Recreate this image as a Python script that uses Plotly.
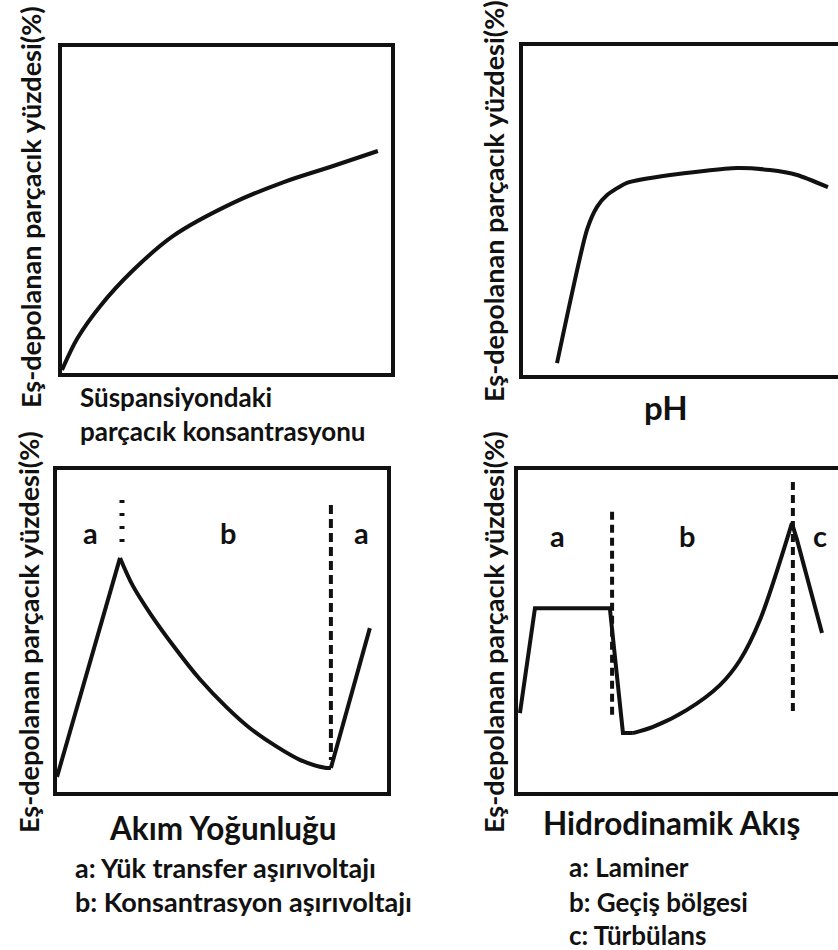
import plotly.graph_objects as go

W, H = 838, 950
FONT = "Lato"
INK = "#111111"

# ---- data (normalised axis units, 0..1 in each panel) ----
# Panel 1: co-deposited particle % vs particle concentration in suspension
conc_x = [0.0, 0.046, 0.116, 0.216, 0.337, 0.520, 0.672, 0.824, 0.960]
conc_y = [0.009, 0.105, 0.205, 0.315, 0.420, 0.522, 0.585, 0.635, 0.681]

# Panel 2: co-deposited particle % vs pH
ph_x = [0.108, 0.203, 0.235, 0.267, 0.330, 0.467, 0.679, 0.784, 0.870, 0.968]
ph_y = [0.036, 0.441, 0.511, 0.547, 0.584, 0.608, 0.629, 0.623, 0.608, 0.571]

# Panel 3: current density (rise, decay, second rise)
cd_rise_x = [0.0, 0.191]
cd_rise_y = [0.047, 0.727]
cd_decay_x = [0.191, 0.230, 0.282, 0.352, 0.433, 0.515, 0.585, 0.667, 0.736, 0.812, 0.830]
cd_decay_y = [0.727, 0.640, 0.555, 0.455, 0.350, 0.262, 0.198, 0.140, 0.100, 0.075, 0.075]
cd_rise2_x = [0.830, 0.948]
cd_rise2_y = [0.075, 0.509]
cd_dot_x, cd_dot_y = [0.197, 0.197], [0.907, 0.752]
cd_dash_x, cd_dash_y = [0.830, 0.830], [0.891, 0.099]
cd_labels = ["a", "b", "a"]
cd_label_x = [0.10, 0.518, 0.924]

# Panel 4: hydrodynamic flow
hf_lam_x = [0.006, 0.053, 0.287, 0.328, 0.359]
hf_lam_y = [0.245, 0.571, 0.571, 0.183, 0.183]
hf_trans_x = [0.359, 0.422, 0.528, 0.631, 0.694, 0.756, 0.856]
hf_trans_y = [0.183, 0.202, 0.255, 0.332, 0.410, 0.534, 0.835]
hf_turb_x = [0.856, 0.872, 0.950]
hf_turb_y = [0.835, 0.783, 0.494]
hf_dash1_x, hf_dash1_y = [0.294, 0.294], [0.870, 0.224]
hf_dash2_x, hf_dash2_y = [0.859, 0.859], [0.963, 0.248]
hf_labels = ["a", "b", "c"]
hf_label_x = [0.122, 0.528, 0.944]

Y_TITLE = "Eş-depolanan parçacık yüzdesi(%)"

# panel boxes in pixels: (left, top, right, bottom)
boxes = {
    1: (62, 47, 391, 373),
    2: (523, 46, 838, 375),
    3: (57, 470, 387, 792),
    4: (518, 470, 838, 792),
}


def px(x):
    return x / W


def py(y):
    return 1 - y / H


fig = go.Figure()


def line(n, x, y, shape="linear", width=4, dash=None, smoothing=None):
    ln = dict(color=INK, width=width, shape=shape)
    if dash:
        ln["dash"] = dash
    if smoothing is not None:
        ln["smoothing"] = smoothing
    fig.add_trace(go.Scatter(
        x=x, y=y, mode="lines", line=ln,
        xaxis="x" if n == 1 else f"x{n}",
        yaxis="y" if n == 1 else f"y{n}",
        showlegend=False, hoverinfo="skip",
    ))


line(1, conc_x, conc_y, shape="spline", smoothing=0.9)
line(2, ph_x, ph_y, shape="spline", smoothing=0.6)
line(3, cd_rise_x, cd_rise_y)
line(3, cd_decay_x, cd_decay_y, shape="spline", smoothing=0.9)
line(3, cd_rise2_x, cd_rise2_y)
line(3, cd_dot_x, cd_dot_y, width=5, dash="3px,10px")
line(3, cd_dash_x, cd_dash_y, width=4, dash="9px,5px")
line(4, hf_lam_x, hf_lam_y)
line(4, hf_trans_x, hf_trans_y, shape="spline", smoothing=0.9)
line(4, hf_turb_x, hf_turb_y)
line(4, hf_dash1_x, hf_dash1_y, width=4, dash="8px,5px")
line(4, hf_dash2_x, hf_dash2_y, width=4, dash="8px,5px")

layout = dict(
    width=W, height=H,
    margin=dict(l=0, r=0, t=0, b=0),
    paper_bgcolor="white", plot_bgcolor="white",
    showlegend=False,
)

for n, (l, t, r, b) in boxes.items():
    right_open = r >= W
    xa = dict(domain=[px(l), min(px(r), 1.0)], range=[0, 1],
              showline=True, linecolor=INK, linewidth=3.5, mirror=True,
              showgrid=False, zeroline=False, showticklabels=False, ticks="",
              fixedrange=True)
    ya = dict(domain=[py(b), py(t)], range=[0, 1],
              showline=True, linecolor=INK, linewidth=3.5,
              mirror=not right_open,
              showgrid=False, zeroline=False, showticklabels=False, ticks="",
              fixedrange=True)
    if n > 1:
        xa["anchor"] = f"y{n}"
        ya["anchor"] = f"x{n}"
    layout["xaxis" if n == 1 else f"xaxis{n}"] = xa
    layout["yaxis" if n == 1 else f"yaxis{n}"] = ya

fig.update_layout(**layout)

ann = []


def text(x, y, s, size, xanchor="center", angle=0):
    ann.append(dict(x=px(x), y=py(y), xref="paper", yref="paper", text=s,
                    showarrow=False, textangle=angle, xanchor=xanchor,
                    yanchor="middle",
                    font=dict(family=FONT, size=size, color=INK, weight="bold")))


# y-axis titles
text(30, 207, Y_TITLE, 27, angle=-90)
text(493, 201, Y_TITLE, 27, angle=-90)
text(28, 632, Y_TITLE, 27, angle=-90)
text(493, 632, Y_TITLE, 27, angle=-90)

# x-axis titles and keys
text(78, 397, "Süspansiyondaki", 26, xanchor="left")
text(78, 431, "parçacık konsantrasyonu", 26, xanchor="left")
text(666, 407, "pH", 33)
text(223, 828, "Akım Yoğunluğu", 31.5)
text(73, 867, "a: Yük transfer aşırıvoltajı", 27, xanchor="left")
text(73, 901, "b: Konsantrasyon aşırıvoltajı", 27, xanchor="left")
text(671, 823, "Hidrodinamik Akış", 31.5)
text(567, 867, "a: Laminer", 26, xanchor="left")
text(567, 902, "b: Geçiş bölgesi", 26, xanchor="left")
text(567, 935, "c: Türbülans", 26, xanchor="left")

# region letters inside the lower panels
for s, xv in zip(cd_labels, cd_label_x):
    ann.append(dict(x=xv, y=0.807, xref="x3", yref="y3", text=s, showarrow=False,
                    font=dict(family=FONT, size=29, color=INK, weight="bold")))
for s, xv in zip(hf_labels, hf_label_x):
    ann.append(dict(x=xv, y=0.798, xref="x4", yref="y4", text=s, showarrow=False,
                    font=dict(family=FONT, size=29, color=INK, weight="bold")))

fig.update_layout(annotations=ann)
fig.write_html("out.html")
